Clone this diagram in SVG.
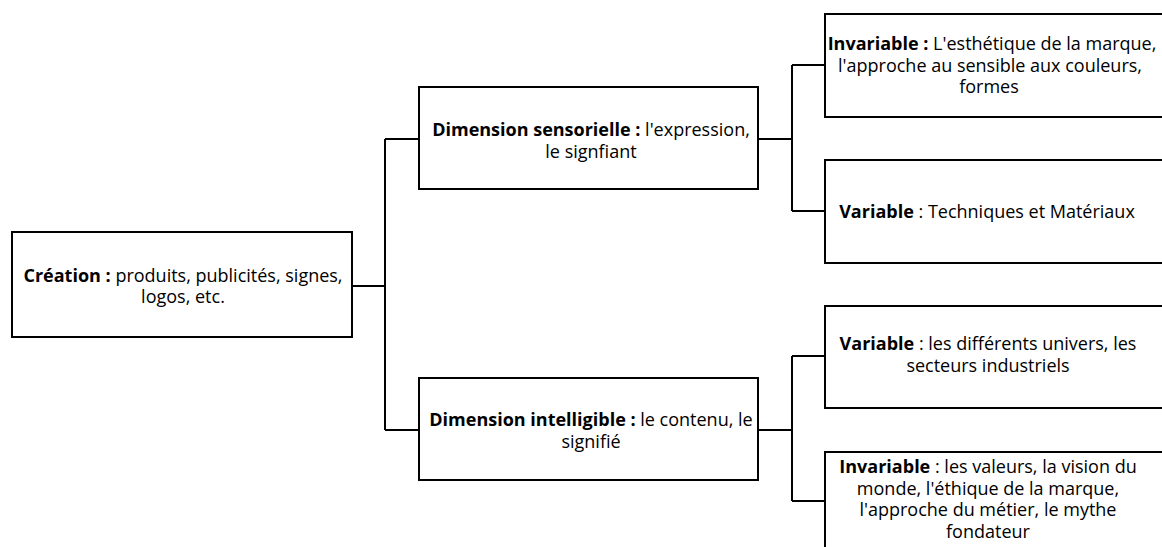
<svg xmlns="http://www.w3.org/2000/svg" width="1162" height="547" viewBox="0 0 1162 547">
<style>
.box{fill:#fff;stroke:#000;stroke-width:2}
.conn{fill:none;stroke:#000;stroke-width:2}
text{font-family:"Open Sans","Liberation Sans",sans-serif;font-size:18px;fill:#000;text-anchor:middle}
.b{font-weight:bold}
</style>
<rect width="1162" height="547" fill="#fff"/>
<g id="connectors">
<path class="conn" d="M352,286 H385 M385,139 V430 M385,139 H419 M385,430 H419"/>
<path class="conn" d="M758,139 H792 M792,65 V211 M792,65 H825 M792,211 H825"/>
<path class="conn" d="M758,430 H792 M792,356 V501 M792,356 H825 M792,501 H825"/>
</g>
<g id="creation">
<rect class="box" x="12" y="232" width="340" height="105"/>
<text x="183" y="282"><tspan class="b">Création :</tspan> produits, publicités, signes,</text>
<text x="183" y="303">logos, etc.</text>
</g>
<g id="dim-sensorielle">
<rect class="box" x="419" y="87" width="339" height="102"/>
<text x="591" y="136"><tspan class="b">Dimension sensorielle :</tspan> l'expression,</text>
<text x="591" y="158">le signfiant</text>
</g>
<g id="dim-intelligible">
<rect class="box" x="419" y="378" width="339" height="102"/>
<text x="591" y="426"><tspan class="b">Dimension intelligible :</tspan> le contenu, le</text>
<text x="591" y="448">signifié</text>
</g>
<g id="invariable-sens">
<rect class="box" x="825" y="14" width="360" height="103"/>
<text x="992" y="50"><tspan class="b">Invariable :</tspan> L'esthétique de la marque,</text>
<text x="990" y="72">l'approche au sensible aux couleurs,</text>
<text x="989" y="93">formes</text>
</g>
<g id="variable-sens">
<rect class="box" x="825" y="160" width="360" height="103"/>
<text x="987" y="218"><tspan class="b">Variable</tspan> : Techniques et Matériaux</text>
</g>
<g id="variable-intel">
<rect class="box" x="825" y="306" width="360" height="102"/>
<text x="988" y="350"><tspan class="b">Variable</tspan> : les différents univers, les</text>
<text x="988" y="372">secteurs industriels</text>
</g>
<g id="invariable-intel">
<rect class="box" x="825" y="452" width="360" height="120"/>
<text x="988" y="473"><tspan class="b">Invariable</tspan> : les valeurs, la vision du</text>
<text x="988" y="495">monde, l'éthique de la marque,</text>
<text x="988" y="516">l'approche du métier, le mythe</text>
<text x="988" y="538">fondateur</text>
</g>
</svg>
